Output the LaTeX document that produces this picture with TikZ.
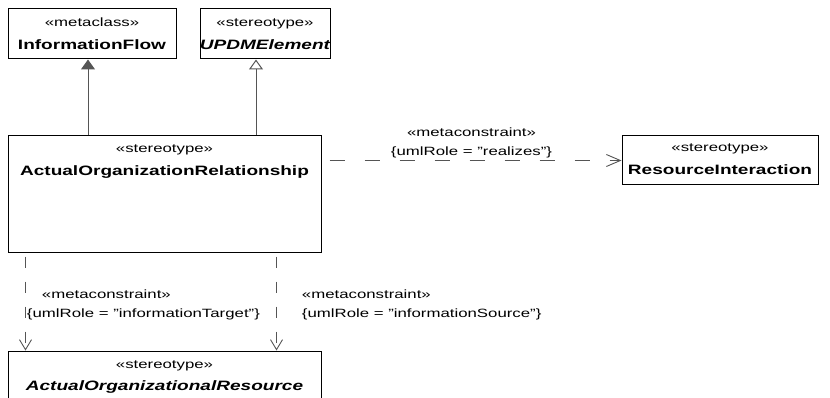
\documentclass[tikz,border=0pt]{standalone}
\usepackage{fontspec}
\setmainfont{Liberation Sans}[FakeStretch=1.4]
\usepackage{xcolor}
\definecolor{linegray}{RGB}{85,85,85}
\usetikzlibrary{arrows.meta, positioning}
\newcommand{\dq}{\symbol{34}}

\begin{document}
\begin{tikzpicture}[x=1pt, y=-1pt,
  classbox/.style={draw=black, line width=1pt, inner sep=0pt},
  stereotxt/.style={anchor=base, inner sep=0pt, font=\fontsize{12}{14}\selectfont},
  nametxt/.style={anchor=base, inner sep=0pt, font=\fontsize{13.6}{16}\selectfont\bfseries},
  metalbl/.style={inner sep=1pt, font=\fontsize{12}{19}\selectfont},
  generalize/.style={draw=linegray, line width=1pt},
  realize/.style={draw=linegray, line width=0.9pt, dash pattern=on 15pt off 20pt, dash phase=27pt,
                  -{Straight Barb[length=14pt,width=12pt]}},
  rolearrow/.style={draw=linegray, line width=0.9pt, dash pattern=on 11pt off 14pt, dash phase=22pt,
                  -{Straight Barb[length=10pt,width=12pt]}}]
  \useasboundingbox (0,0) rectangle (830,398);
  \clip (0,0) rectangle (830,398);

  % classes
  \node[classbox, minimum width=168, minimum height=50] (inf) at (92,34) {};
  \node[stereotxt] (infst) at ([yshift=-18.5pt]inf.north) {«metaclass»};
  \node[nametxt] (infnm) at ([yshift=-41pt]inf.north) {InformationFlow};

  \node[classbox, minimum width=130, minimum height=50] (updm) at (265,34) {};
  \node[stereotxt] (updmst) at ([yshift=-18.5pt]updm.north) {«stereotype»};
  \node[nametxt] (updmnm) at ([yshift=-41pt]updm.north) {\itshape UPDMElement};

  \node[classbox, minimum width=313, minimum height=117] (aor) at (164.5,194.5) {};
  \node[stereotxt] (aorst) at ([yshift=-17.5pt]aor.north) {«stereotype»};
  \node[nametxt] (aornm) at ([yshift=-40pt]aor.north) {ActualOrganizationRelationship};

  \node[classbox, minimum width=196, minimum height=49] (ri) at (720,160.5) {};
  \node[stereotxt] (rist) at ([yshift=-16.5pt]ri.north) {«stereotype»};
  \node[nametxt] (rinm) at ([yshift=-39pt]ri.north) {ResourceInteraction};

  \node[classbox, minimum width=313, minimum height=69] (ares) at (164.5,385.5) {};
  \node[stereotxt] (aresst) at ([yshift=-17.5pt]ares.north) {«stereotype»};
  \node[nametxt] (aresnm) at ([yshift=-40pt]ares.north) {\itshape ActualOrganizationalResource};

  % generalizations
  \coordinate (inffoot) at ([xshift=-4pt]inf.south);
  \coordinate (updmfoot) at ([xshift=-9pt]updm.south);
  \draw[generalize, -{Triangle[width=14pt,length=10pt]}] (inffoot |- aor.north) -- (inffoot);
  \draw[generalize, -{Triangle[open,width=14pt,length=10pt,fill=white]}] (updmfoot |- aor.north) -- (updmfoot);

  % metaconstraints
  \draw[realize] (aor.east |- ri.west) -- node[metalbl, above=1pt, align=center]
    {«metaconstraint»\\\{umlRole = \dq realizes\dq\}} (ri.west);

  \coordinate (tgttop) at ([xshift=18pt]aor.south west);
  \coordinate (srctop) at ([xshift=269pt]aor.south west);
  \draw[rolearrow] (tgttop) -- node[metalbl, right, align=left, yshift=-3pt]
    {\hspace*{15pt}«metaconstraint»\\\{umlRole = \dq informationTarget\dq\}} (tgttop |- ares.north);
  \draw[rolearrow] (srctop) -- node[metalbl, right=24pt, align=left, yshift=-3pt]
    {«metaconstraint»\\\{umlRole = \dq informationSource\dq\}} (srctop |- ares.north);
\end{tikzpicture}
\end{document}
